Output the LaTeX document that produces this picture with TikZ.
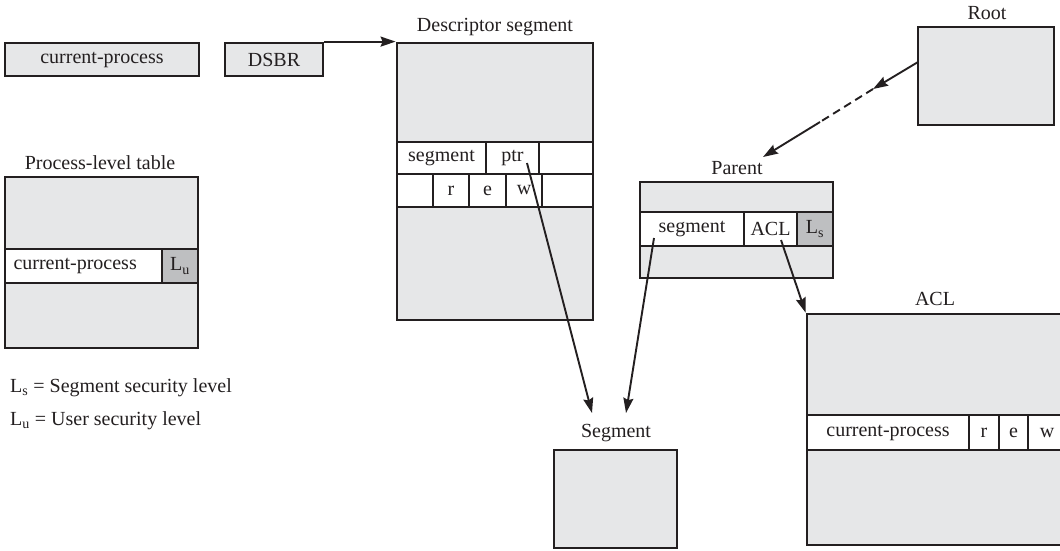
\documentclass[tikz,border=0pt]{standalone}
\usepackage{xcolor}
\usepackage{fontspec}
\setmainfont{Liberation Serif}
\usetikzlibrary{arrows.meta}
\definecolor{boxfill}{RGB}{230,231,232}
\definecolor{lvlfill}{RGB}{190,191,193}
\definecolor{ink}{RGB}{35,31,32}

\begin{document}
\begin{tikzpicture}[x=1pt, y=-1pt, >={Stealth[length=15pt, width=10pt, inset=2pt]},
  every node/.style={font=\fontsize{20}{24}\selectfont, text=ink},
  tbl/.style={draw=ink, line width=2.8pt, fill=boxfill, inner sep=0pt},
  cell/.style={tbl, fill=white},
  lvl/.style={tbl, fill=lvlfill},
  sz/.style 2 args={minimum width=#1, minimum height=#2},
  ttl/.style={anchor=base, inner sep=0pt},
  link/.style={draw=ink, line width=1.9pt}]
  \useasboundingbox (0,0) rectangle (1060,550);

  \node[tbl, sz={194}{33}] (curProc) at (102,59.5) {current-process};
  \node[tbl, sz={98}{33}] (dsbr) at (274,59.5) {DSBR};

  \node[tbl, sz={196}{277}] (desc) at (495,181.5) {};
  \node[ttl] (descTitle) at (495,31) {Descriptor segment};
  \node[cell, sz={89}{32}] (dsSeg) at (441.5,158) {segment};
  \node[cell, sz={53}{32}] (dsPtr) at (512.5,158) {ptr};
  \node[cell, sz={54}{32}] (dsFree) at (566,158) {};
  \node[cell, sz={36}{33}] (dsBlank) at (415,190.5) {};
  \node[cell, sz={36}{33}] (dsR) at (451,190.5) {r};
  \node[cell, sz={37}{33}] (dsE) at (487.5,190.5) {e};
  \node[cell, sz={36}{33}] (dsW) at (524,190.5) {w};
  \node[cell, sz={51}{33}] (dsRest) at (567.5,190.5) {};

  \node[tbl, sz={193}{171}] (plt) at (101.5,262.5) {};
  \node[ttl] (pltTitle) at (100,169) {Process-level table};
  \node[cell, sz={157}{34}, text width=140, align=left] (pltCur) at (83.5,266) {current-process};
  \node[lvl, sz={36}{34}] (pltLu) at (180,266) {L\textsubscript{u}};

  \node[tbl, sz={193}{96}] (parent) at (736.5,230) {};
  \node[ttl] (parentTitle) at (737,174) {Parent};
  \node[cell, sz={104}{34}] (paSeg) at (692,229) {segment};
  \node[cell, sz={53}{34}] (paAcl) at (770.5,229) {ACL};
  \node[lvl, sz={36}{34}] (paLs) at (815,229) {L\textsubscript{s}};

  \node[tbl, sz={136}{98}] (root) at (986,76) {};
  \node[ttl] (rootTitle) at (987,19) {Root};

  \node[tbl, sz={259}{231}] (acl) at (936.5,429.5) {};
  \node[ttl] (aclTitle) at (935,305) {ACL};
  \node[cell, sz={162}{35}] (aclCur) at (888,432.5) {current-process};
  \node[cell, sz={30}{35}] (aclR) at (984,432.5) {r};
  \node[cell, sz={29}{35}] (aclE) at (1013.5,432.5) {e};
  \node[cell, sz={38}{35}] (aclW) at (1047,432.5) {w};

  \node[tbl, sz={123}{98}] (segment) at (615.5,499) {};
  \node[ttl] (segTitle) at (616,437) {Segment};

  \node[anchor=base west, inner sep=0pt] (legLs) at (10,392) {L\textsubscript{s} = Segment security level};
  \node[anchor=base west, inner sep=0pt] (legLu) at (10,425) {L\textsubscript{u} = User security level};

  \coordinate (ptrOut) at (527,163);
  \coordinate (ptrIn) at (592,413);
  \coordinate (segOut) at (654,238);
  \coordinate (segIn) at (626,413);
  \coordinate (aclOut) at (781,240);
  \coordinate (rootOut) at (918,62);
  \coordinate (dashTop) at (873,89);
  \coordinate (dashEnd) at (820,122);
  \coordinate (parentIn) at (763,157);

  \draw[link, ->] (dsbr.north east) -- (desc.north west);
  \draw[link, ->] (ptrOut) -- (ptrIn);
  \draw[link, ->] (segOut) -- (segIn);
  \draw[link, ->] (aclOut) -- (acl.north west);
  \draw[link, ->] (rootOut) -- (dashTop);
  \draw[link, dash pattern=on 8pt off 5pt] (dashTop) -- (dashEnd);
  \draw[link, ->] (dashEnd) -- (parentIn);
\end{tikzpicture}
\end{document}
